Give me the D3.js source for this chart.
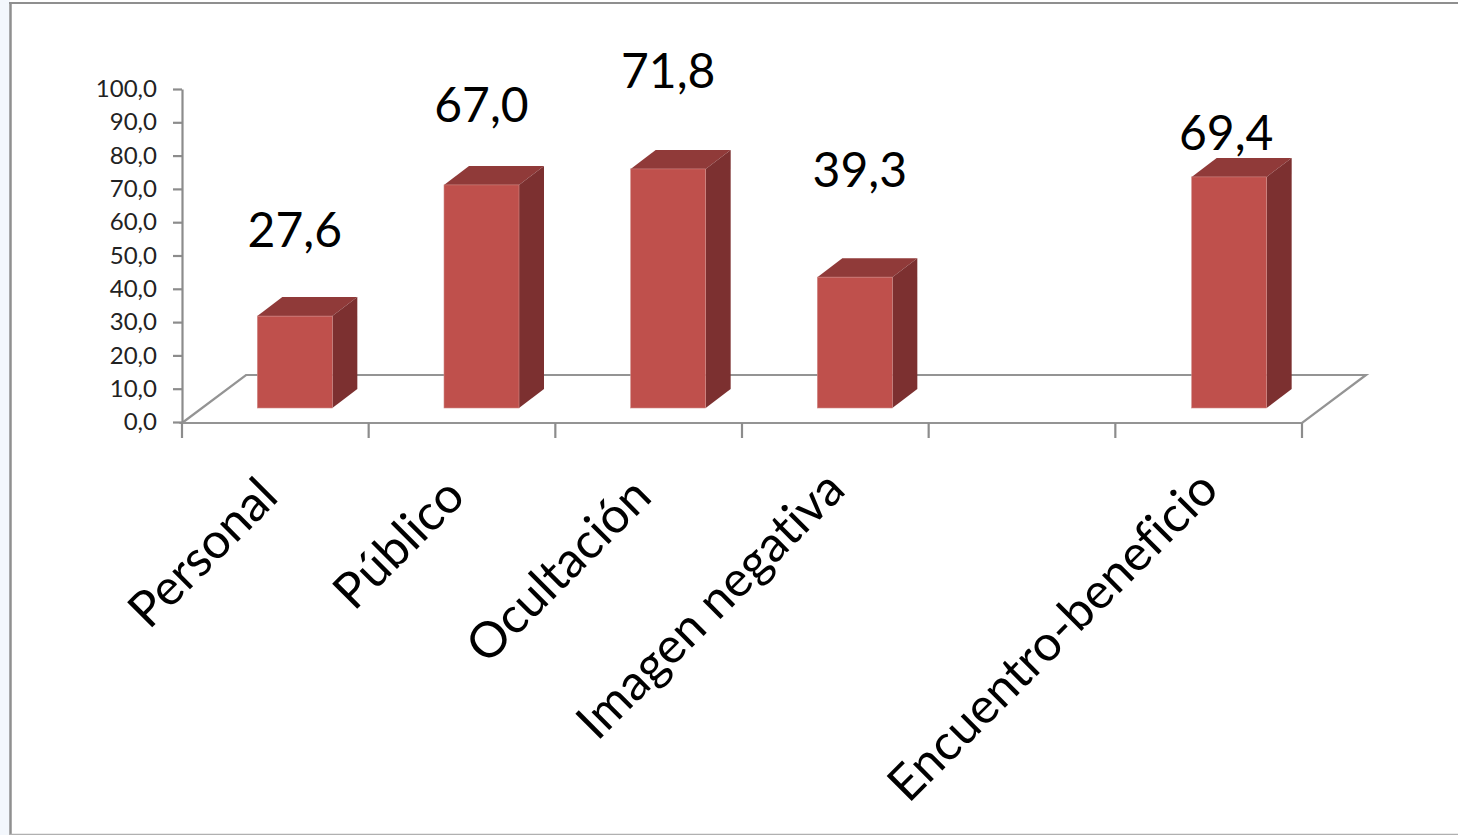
<!DOCTYPE html>
<html>
<head>
<meta charset="utf-8">
<script src="https://d3js.org/d3.v7.min.js"></script>
<style>
  html, body { margin: 0; padding: 0; background: #fff; overflow: hidden; }
  svg { display: block; }
  text { font-family: Lato, "Open Sans", sans-serif; font-variant-ligatures: none; }
</style>
</head>
<body>
<div id="chart"></div>
<script>
// Chart data
const categories = ["Personal", "Público", "Ocultación", "Imagen negativa", " ", "Encuentro-beneficio"];
const values = [27.6, 67.0, 71.8, 39.3, null, 69.4];
const valueLabels = ["27,6", "67,0", "71,8", "39,3", "", "69,4"];
const yTicks = [0, 10, 20, 30, 40, 50, 60, 70, 80, 90, 100];

// Hand placed labels in the original, so each one gets its own nudge
const labelLift = [50, 44, 62, 71, 0, 8];
const labelShift = [0, 0, 0, 5, 0, -2];
const catNudge = [7, 7, 7, 0, 0, 0];

const width = 1458, height = 835;
const left = 182, right = 1302, top_ = 89, bottom = 422;

// Depth of the floor and of the bars
const floorDx = 64, floorDy = 48;
const barDx = 25, barDy = 19;
const barWidth = 75, barLift = 14;

const svg = d3.select("#chart").append("svg")
    .attr("width", width)
    .attr("height", height);

// Window frame around the pasted chart
svg.append("rect").attr("x", 0).attr("y", 0).attr("width", 10).attr("height", height).attr("fill", "#f3f7fc");
svg.append("line").attr("x1", 10.5).attr("x2", 10.5).attr("y1", 2).attr("y2", height).attr("stroke", "#8f8f8f").attr("stroke-width", 2.5);
svg.append("line").attr("x1", 9).attr("x2", width).attr("y1", 3).attr("y2", 3).attr("stroke", "#8f8f8f").attr("stroke-width", 2);
svg.append("line").attr("x1", 9).attr("x2", width).attr("y1", 834.5).attr("y2", 834.5).attr("stroke", "#b0b0b0").attr("stroke-width", 1.5);

// Scales
const x = d3.scaleBand().domain(d3.range(categories.length)).range([left, right]);
const y = d3.scaleLinear().domain([0, 100]).range([bottom, top_]);

// Floor of the 3D plot
svg.append("path")
    .attr("d", `M${left},${bottom + 1}L${left + floorDx},${bottom + 1 - floorDy}L${right + floorDx},${bottom + 1 - floorDy}L${right},${bottom + 1}Z`)
    .attr("fill", "#fff")
    .attr("stroke", "#949494")
    .attr("stroke-width", 2.2);

// Y axis
const yAxis = svg.append("g")
    .attr("transform", `translate(${left},0)`)
    .call(d3.axisLeft(y)
        .tickValues(yTicks)
        .tickSize(9)
        .tickSizeOuter(0)
        .tickPadding(16)
        .tickFormat(d => d3.format(".1f")(d).replace(".", ",")));
yAxis.selectAll("path, line").attr("stroke", "#8c8c8c").attr("stroke-width", 2.2);
yAxis.selectAll("text").attr("font-size", 24).attr("fill", "#222");
yAxis.select("path").attr("fill", "none");

// X axis ticks sit on the band edges, so they are drawn from the band scale
const edges = categories.map((d, i) => x(i)).concat(right);
svg.selectAll(".x-tick")
    .data(edges)
    .enter()
    .append("line")
    .attr("class", "x-tick")
    .attr("x1", d => d)
    .attr("x2", d => d)
    .attr("y1", bottom + 1)
    .attr("y2", bottom + 16)
    .attr("stroke", "#8c8c8c")
    .attr("stroke-width", 2.2);

// Bars, offset onto the floor
const bars = svg.selectAll(".bar")
    .data(values.map((v, i) => ({v, i})).filter(d => d.v !== null))
    .enter()
    .append("g")
    .attr("class", "bar")
    .attr("transform", d => `translate(${x(d.i) + (x.bandwidth() - barWidth) / 2 + 19.5 + (d.i === 5 ? 1 : 0)},${-barLift})`);

// Top face
bars.append("path")
    .attr("d", d => {
        const t = y(d.v);
        return `M0,${t}L${barDx},${t - barDy}L${barWidth + barDx},${t - barDy}L${barWidth},${t}Z`;
    })
    .attr("fill", "#903a39");

// Side face
bars.append("path")
    .attr("d", d => {
        const t = y(d.v);
        return `M${barWidth},${t}L${barWidth + barDx},${t - barDy}L${barWidth + barDx},${y(0) - barDy}L${barWidth},${y(0)}Z`;
    })
    .attr("fill", "#7c3030");

// Front face
bars.append("rect")
    .attr("x", 0)
    .attr("y", d => y(d.v))
    .attr("width", barWidth)
    .attr("height", d => y(0) - y(d.v))
    .attr("fill", "#bf504c")
    .attr("stroke", "#d08a87")
    .attr("stroke-width", 0.6);

// Data labels
svg.selectAll(".value-label")
    .data(values.map((v, i) => ({v, i})).filter(d => d.v !== null))
    .enter()
    .append("text")
    .attr("class", "value-label")
    .attr("x", d => x(d.i) + x.bandwidth() / 2 + 19.5 + labelShift[d.i])
    .attr("y", d => y(d.v) - barLift - barDy - labelLift[d.i])
    .attr("text-anchor", "middle")
    .attr("font-size", 48)
    .attr("fill", "#000")
    .text(d => valueLabels[d.i]);

// Category labels
svg.selectAll(".cat-label")
    .data(categories)
    .enter()
    .append("text")
    .attr("class", "cat-label")
    .attr("text-anchor", "end")
    .attr("transform", (d, i) => `translate(${x(i) + x.bandwidth() / 2 + 12 - catNudge[i]},${bottom + 70 + catNudge[i]}) rotate(-45)`)
    .attr("font-size", 49.5)
    .attr("fill", "#000")
    .text(d => d);
</script>
</body>
</html>
